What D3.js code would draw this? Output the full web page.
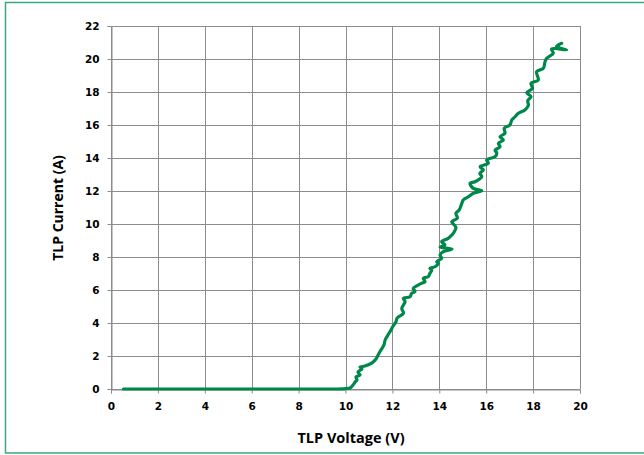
<!DOCTYPE html>
<html>
<head>
<meta charset="utf-8">
<script src="https://cdn.jsdelivr.net/npm/d3@7"></script>
<style>
  body { margin: 0; background: #fff; }
</style>
</head>
<body>
<div id="chart"></div>
<script>
// TLP curve (voltage in V, current in A)
const voltage = [0.53, 2, 4, 6, 8, 9.5, 9.9, 10.0, 10.06, 10.19, 10.32, 10.41, 10.49, 10.45, 10.62, 10.53, 10.70, 10.62, 10.83,
    11.13, 11.30, 11.39, 11.51, 11.64, 11.69, 11.81, 11.94, 12.03, 12.15, 12.20,
    12.47, 12.40, 12.54, 12.47, 12.75, 12.82, 12.96, 12.89, 13.10, 13.25, 13.39, 13.32, 13.53, 13.60, 13.68, 13.60,
    13.82, 13.96, 13.89, 14.10, 14.03, 14.17, 14.54, 14.03, 14.24, 14.10, 14.38, 14.53,
    14.60, 14.71, 14.53, 14.77, 14.71, 14.85, 14.96, 15.02, 15.24, 15.45, 15.81, 15.45, 15.31, 15.52, 15.81, 15.73,
    15.88, 15.74, 16.09, 16.02, 16.38, 16.45,
    16.38, 16.59, 16.52, 16.73, 16.59, 16.80, 16.77, 17.01, 17.09, 17.23, 17.37, 17.65, 17.80, 17.77, 17.91, 17.73,
    17.97, 17.91, 18.22, 18.15, 18.44, 18.51, 18.58, 18.86, 18.79, 19.43, 19.00, 19.22];
const current = [0, 0, 0, 0, 0, 0, 0.01, 0.02, 0.03, 0.06, 0.24, 0.42, 0.55, 0.73, 0.85, 1.03, 1.21, 1.33, 1.39,
    1.58, 1.82, 2.06, 2.36, 2.67, 2.97, 3.27, 3.58, 3.82, 4.06, 4.30,
    4.59, 4.89, 5.29, 5.50, 5.59, 5.80, 5.90, 6.10, 6.30, 6.41, 6.50, 6.71, 6.81, 7.01, 7.21, 7.31,
    7.41, 7.62, 7.72, 7.92, 8.12, 8.32, 8.48, 8.60, 8.73, 8.93, 9.13, 9.33,
    9.44, 9.80, 10.14, 10.35, 10.65, 10.85, 11.25, 11.45, 11.65, 11.86, 12.02, 12.16, 12.47, 12.56, 12.87, 13.07,
    13.27, 13.47, 13.68, 13.88, 14.08, 14.30,
    14.48, 14.68, 14.89, 15.09, 15.29, 15.50, 15.80, 16.00, 16.30, 16.50, 16.71, 16.91, 17.21, 17.47, 17.72, 17.96,
    18.22, 18.53, 18.73, 19.23, 19.44, 19.84, 20.04, 20.35, 20.61, 20.55, 20.75, 20.95];

const xTicks = [0, 2, 4, 6, 8, 10, 12, 14, 16, 18, 20];
const yTicks = [0, 2, 4, 6, 8, 10, 12, 14, 16, 18, 20, 22];

const W = 644, H = 455;
const margin = { top: 26, right: 64, bottom: 66, left: 111 },
    width = W - margin.left - margin.right,
    height = H - margin.top - margin.bottom;

const root = d3.select("#chart")
    .append("svg")
    .attr("width", W)
    .attr("height", H);

// outer frame
root.append("rect")
    .attr("x", 5.5).attr("y", 2.5)
    .attr("width", 645).attr("height", 450.5)
    .attr("fill", "none")
    .attr("stroke", "#3ca77a")
    .attr("stroke-width", 1.5);

const svg = root.append("g")
    .attr("transform", "translate(" + margin.left + "," + margin.top + ")");

const x = d3.scaleLinear().domain([0, 20]).range([0, width]);
const y = d3.scaleLinear().domain([0, 22]).range([height, 0]);

const gridColor = "#8c8c8c";

// grid
svg.append("g")
    .selectAll("line")
    .data(xTicks)
    .enter()
    .append("line")
    .attr("x1", d => Math.round(x(d)) + 0.5).attr("x2", d => Math.round(x(d)) + 0.5)
    .attr("y1", 0).attr("y2", height)
    .attr("stroke", gridColor);
svg.append("g")
    .selectAll("line")
    .data(yTicks)
    .enter()
    .append("line")
    .attr("y1", d => Math.round(y(d)) + 0.5).attr("y2", d => Math.round(y(d)) + 0.5)
    .attr("x1", 0).attr("x2", width)
    .attr("stroke", gridColor);

// axes
const xAxis = svg.append("g")
    .attr("transform", "translate(0," + (height + 0.5) + ")")
    .call(d3.axisBottom(x).tickValues(xTicks).tickSize(4).tickPadding(9));
const yAxis = svg.append("g")
    .attr("transform", "translate(0.5,0)")
    .call(d3.axisLeft(y).tickValues(yTicks).tickSize(4).tickPadding(8));

[xAxis, yAxis].forEach(a => {
    a.select(".domain").attr("stroke", gridColor);
    a.selectAll(".tick line").attr("stroke", gridColor);
    a.selectAll("text")
        .attr("font-family", "DejaVu Sans, Verdana, sans-serif")
        .attr("font-weight", "bold")
        .attr("font-size", "10.5px")
        .attr("fill", "#000");
});

// curve
const line = d3.line()
    .x((d, i) => x(voltage[i]))
    .y((d, i) => y(current[i]))
    .curve(d3.curveCatmullRom.alpha(0.5));

svg.append("path")
    .datum(voltage)
    .attr("d", line)
    .attr("fill", "none")
    .attr("stroke", "#00884b")
    .attr("stroke-width", 3.2)
    .attr("stroke-linejoin", "round")
    .attr("stroke-linecap", "round");

// titles
root.append("text")
    .attr("x", 351)
    .attr("y", 443)
    .attr("text-anchor", "middle")
    .attr("font-family", "Open Sans, sans-serif")
    .attr("font-weight", "bold")
    .attr("font-size", "14.5px")
    .text("TLP Voltage (V)");

root.append("text")
    .attr("transform", "translate(63,208) rotate(-90)")
    .attr("text-anchor", "middle")
    .attr("font-family", "Open Sans, sans-serif")
    .attr("font-weight", "bold")
    .attr("font-size", "14px")
    .text("TLP Current (A)");
</script>
</body>
</html>
